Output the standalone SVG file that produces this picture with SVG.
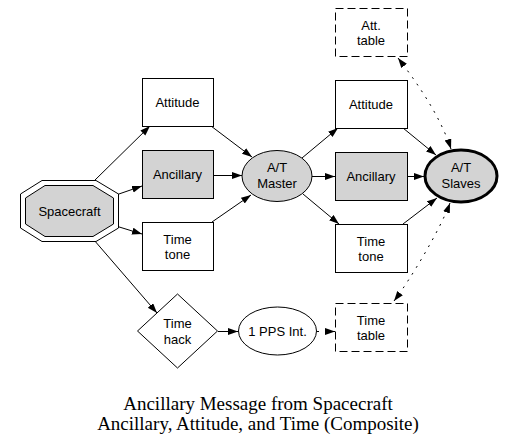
<svg xmlns="http://www.w3.org/2000/svg" width="516" height="447" viewBox="0 0 516 447">
<style>
.box{fill:#fff;stroke:#000;stroke-width:1}
.gray{fill:#d3d3d3}
.thick{stroke-width:3}
.dash{stroke-dasharray:8,4}
.lbl{font-family:"Liberation Sans",Arial,sans-serif;font-size:13px;text-anchor:middle;fill:#000}
.cap{font-family:"Liberation Serif","Times New Roman",serif;font-size:19px;text-anchor:middle;fill:#000}
.edge{fill:none;stroke:#000;stroke-width:1;marker-end:url(#arr)}
.dot{stroke-dasharray:2,6}
.both{marker-start:url(#arr)}
</style>
<defs>
<marker id="arr" markerUnits="userSpaceOnUse" markerWidth="11" markerHeight="8" refX="10" refY="3.5" orient="auto-start-reverse">
<path d="M0,0 L10,3.5 L0,7 Z" fill="#000"/>
</marker>
</defs>
<g id="connectors">
<path class="edge" d="M94,181 L150,126"/>
<path class="edge" d="M116,195 L142,186"/>
<path class="edge" d="M116,226 L142,234"/>
<path class="edge" d="M94,240 L157,313"/>
<path class="edge" d="M211,126 L252,157"/>
<path class="edge" d="M213,175.5 L242,175.5"/>
<path class="edge" d="M212,222 L251,195"/>
<path class="edge" d="M302,158 L338,128"/>
<path class="edge" d="M312,176.5 L335,176.5"/>
<path class="edge" d="M303,194 L339,224"/>
<path class="edge" d="M403,128 L436,155"/>
<path class="edge" d="M407,176.5 L424,176.5"/>
<path class="edge" d="M403,224 L437,198"/>
<path class="edge dot both" d="M398,58 C415,80 440,115 451,149"/>
<path class="edge dot both" d="M394,301 C410,280 440,230 450,203"/>
<path class="edge" d="M218,331.5 L238,331.5"/>
<path class="edge dot" d="M317,331.5 L335,331.5"/>
</g>
<g id="spacecraft">
<polygon class="box" points="42,180.5 96,180.5 118.5,194 118.5,228 96,241.5 42,241.5 20.5,228 20.5,194"/>
<polygon class="box gray" points="45,185.5 93,185.5 113.5,198 113.5,224 93,236.5 45,236.5 25.5,224 25.5,198"/>
<text class="lbl" x="69.5" y="215.5">Spacecraft</text>
</g>
<g id="attitude_left">
<rect class="box" x="142.5" y="78.5" width="71" height="48"/>
<text class="lbl" x="177.5" y="106.5">Attitude</text>
</g>
<g id="ancillary_left">
<rect class="box gray" x="142.5" y="150.5" width="71" height="48"/>
<text class="lbl" x="177.5" y="178.5">Ancillary</text>
</g>
<g id="timetone_left">
<rect class="box" x="142.5" y="222.5" width="71" height="48"/>
<text class="lbl" x="177.5" y="243.5">Time</text>
<text class="lbl" x="177.5" y="258.5">tone</text>
</g>
<g id="at_master">
<ellipse class="box gray" cx="277" cy="176" rx="35" ry="25.5"/>
<text class="lbl" x="277" y="172">A/T</text>
<text class="lbl" x="277" y="188">Master</text>
</g>
<g id="attitude_right">
<rect class="box" x="335.5" y="80.5" width="72" height="48"/>
<text class="lbl" x="371" y="108.5">Attitude</text>
</g>
<g id="ancillary_right">
<rect class="box gray" x="335.5" y="152.5" width="72" height="48"/>
<text class="lbl" x="371" y="180.5">Ancillary</text>
</g>
<g id="timetone_right">
<rect class="box" x="335.5" y="224.5" width="72" height="48"/>
<text class="lbl" x="371" y="245.5">Time</text>
<text class="lbl" x="371" y="260.5">tone</text>
</g>
<g id="at_slaves">
<ellipse class="box gray thick" cx="461" cy="176" rx="36" ry="26"/>
<text class="lbl" x="461" y="172">A/T</text>
<text class="lbl" x="461" y="188">Slaves</text>
</g>
<g id="att_table">
<rect class="box dash" x="335.5" y="8.5" width="72" height="48"/>
<text class="lbl" x="371" y="29.5">Att.</text>
<text class="lbl" x="371" y="45">table</text>
</g>
<g id="time_hack">
<polygon class="box" points="137.5,331 177.5,294 217.5,331 177.5,368"/>
<text class="lbl" x="177.5" y="328">Time</text>
<text class="lbl" x="177.5" y="344">hack</text>
</g>
<g id="pps_int">
<ellipse class="box" cx="277.5" cy="331" rx="39" ry="24"/>
<text class="lbl" x="277.5" y="335.5">1 PPS Int.</text>
</g>
<g id="time_table">
<rect class="box dash" x="335.5" y="303.5" width="72" height="48"/>
<text class="lbl" x="371" y="324.5">Time</text>
<text class="lbl" x="371" y="340">table</text>
</g>
<g id="caption">
<text class="cap" x="258" y="410">Ancillary Message from Spacecraft</text>
<text class="cap" x="258" y="430">Ancillary, Attitude, and Time (Composite)</text>
</g>
</svg>
